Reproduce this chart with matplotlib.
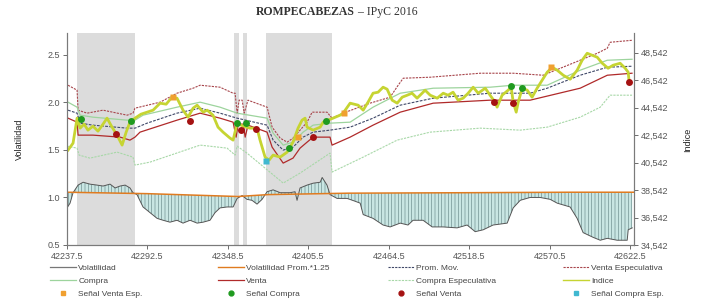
import numpy as np
import matplotlib
matplotlib.use("Agg")
import matplotlib.pyplot as plt
from matplotlib.lines import Line2D

plt.rcParams['font.family'] = ['Liberation Sans', 'DejaVu Sans']
plt.rcParams['hatch.linewidth'] = 0.45
plt.rcParams['hatch.color'] = '#6a8a8a'

# x axis is a trading-day index, labelled with the date serials
tick_pos = [0, 40, 80, 120, 160, 200, 240, 280]
tick_lbl = ['42237.5', '42292.5', '42348.5', '42405.5', '42464.5', '42518.5', '42570.5', '42622.5']

# shaded periods (index units)
spans = [(5, 34), (83, 85.5), (87.5, 89.5), (99, 132)]

# --- Indice (right axis)
ind_x = [0.5, 3, 5, 6.5, 8.5, 10.4, 12.9, 15.4, 17.9, 19.9, 22.4, 24.9, 27.4, 29.4, 31.3, 33.8,
         36.8, 39.8, 42.8, 46.3, 49.3, 52.2, 54.7, 57.7, 60.2, 62.7, 64.7, 67.7, 69.7, 72.6, 75.1,
         77.6, 81.1, 82.6, 84.6, 87.6, 91, 94.5, 96, 98.5, 100.5, 102.5, 106, 109.5, 112.4, 114.9,
         116.9, 118.4, 119.4, 122.4, 125.9, 127.4, 129.8, 132.3, 135.8, 137.3, 140.8, 144.8, 147.3,
         149.7, 152.2, 154.7, 157.2, 159.2, 161.7, 164.2, 166.7, 169.2, 171.6, 174.1, 176.6, 178.1,
         180.6, 184.1, 187.1, 189.5, 192, 194.5, 197, 199.5, 202, 204.5, 208, 210.4, 212.9, 213.9,
         216.4, 219.4, 220.9, 221.9, 223.4, 224.4, 226.4, 228.9, 231.3, 233.8, 236.3, 238.8, 241.3,
         243.8, 246.8, 250.2, 253.7, 256.2, 258.7, 261.2, 263.7, 266.2, 269.1, 271.6, 275.1, 277.6,
         279.1, 279.6]
indice = [41449, 41957, 43775, 43048, 43339, 42903, 43193, 42830, 43339, 43775, 43121, 42539, 41812,
          42757, 43484, 43775, 44066, 44211, 44357, 44866, 44793, 45302, 45229, 44357, 43848, 44502,
          44720, 44211, 44357, 43993, 43121, 42757, 42321, 42176, 43411, 43193, 43048, 43048, 42176,
          40940, 40722, 41085, 40940, 41303, 42030, 43048, 43630, 43775, 43121, 42903, 43121, 43484,
          43630, 43775, 43993, 44139, 44866, 44720, 44357, 44939, 45592, 45665, 46029, 45884, 45084,
          44866, 45302, 45447, 45592, 45229, 45592, 45811, 45447, 45229, 45592, 45447, 45665, 45084,
          45229, 45592, 46029, 45592, 45956, 45447, 44939, 44575, 45447, 45811, 46029, 44939, 44211,
          44939, 45956, 45811, 45302, 45956, 46538, 47119, 47483, 47265, 46901, 46610, 47265, 47992,
          48500, 48355, 48210, 47773, 47410, 47628, 47773, 47410, 47119, 46392]

# --- bands (right axis)
vesp_x = [0.5, 5, 5.5, 10, 17.9, 29.9, 32.8, 33.8, 46.3, 54.7, 62.7, 66.2, 76.1, 82.6, 83.6, 84.6,
          85.6, 87.1, 88.1, 90, 99.5, 102, 106, 109.5, 112.4, 115.9, 119.4, 121.9, 129.3, 131.8,
          137.3, 150.7, 160.7, 164.7, 167.2, 180.6, 205.5, 221.9, 236.8, 255.2, 263.7, 268.7, 270.1,
          281.1]
venta_esp = [46174, 45811, 44357, 44139, 44357, 43993, 44139, 44502, 44939, 45592, 45956, 46174,
             46029, 45592, 45592, 44139, 45084, 45084, 44139, 45084, 44575, 43121, 42321, 42030,
             42321, 42903, 43484, 44211, 44211, 43775, 44139, 44866, 45302, 46174, 46683, 46756,
             47047, 47047, 46901, 47992, 48500, 48864, 49300, 49446]

comp_x = [0.5, 5, 6.5, 12.9, 29.9, 33.8, 37.8, 54.7, 66.2, 76.1, 84.6, 99.5, 102.5, 107.5, 112.4,
          117.4, 122.4, 130.8, 140.8, 152.2, 165.7, 182.1, 210.4, 221.9, 238.8, 255.2, 268.7, 281]
compra = [44938, 44575, 43993, 43848, 43630, 43630, 43993, 44575, 44939, 44575, 44139, 43775, 42684,
          41812, 42030, 42757, 43266, 43411, 43484, 44575, 45592, 45956, 46029, 46174, 46174, 47265,
          47992, 48064]

prom_x = [0.5, 5, 6.5, 12.9, 29.9, 33.8, 39.8, 54.7, 66.2, 76.1, 84.6, 99.5, 102.5, 107.5, 112.4,
          117.4, 122.4, 130.8, 140.8, 152.2, 165.7, 182.1, 210.4, 230.3, 238.8, 255.2, 268.7, 281]
prom_mov = [44357, 44139, 43411, 43266, 43048, 43048, 43411, 44139, 44502, 44139, 43775, 43266, 42176,
            41449, 41667, 42394, 42757, 42903, 43121, 43775, 44720, 45229, 45592, 45592, 45956, 46901,
            47483, 47555]

vent_x = [0.5, 5, 5.5, 12.9, 26.4, 31.3, 33.8, 36.3, 54.7, 66.2, 76.1, 82.6, 84.1, 85.1, 87.6, 88.6,
          90, 99.5, 102, 107.5, 112.4, 115.9, 119.4, 122.4, 130.8, 131.8, 140.8, 152.2, 165.7, 182.1,
          210.4, 230.3, 255.2, 268.7, 281]
venta = [43775, 43484, 42539, 42539, 42394, 42176, 42394, 42757, 43630, 44139, 43775, 43484, 42394,
         43339, 43339, 42394, 43266, 42757, 41667, 40503, 40867, 41594, 42030, 42394, 42394, 41812,
         42394, 43266, 44211, 44866, 45084, 45084, 45956, 46901, 47047]

cesp_x = [0, 5, 6, 11.4, 24.9, 32.8, 33.8, 41.3, 66.2, 79.6, 83.6, 84.6, 89.5, 107.5, 115.9, 130.8,
          131.8, 147.3, 164.2, 180.6, 205.5, 225.4, 238.8, 255.2, 265.2, 270.1, 281]
compra_esp = [41739, 41594, 41085, 40867, 41303, 40940, 40358, 40576, 41812, 41594, 41085, 41739,
              41230, 39049, 39776, 41230, 39849, 40940, 42176, 42757, 43048, 42903, 43121, 43848,
              44575, 45447, 45447]

# --- signals
sc_x = [7, 31.8, 84.6, 89, 110.4, 128.9, 220.9, 226.4]
sc_y = [43702, 43557, 43411, 43411, 41594, 43557, 46101, 45956]
sv_x = [24.4, 61.2, 86.6, 94, 122.4, 212.4, 221.9, 279.6]
sv_y = [42612, 43557, 42903, 42975, 42394, 44939, 44866, 46392]
sve_x = [52.7, 114.9, 137.8, 240.8]
sve_y = [45302, 42394, 44139, 47483]
sce_x = [99]
sce_y = [40649]

# --- volatility (left axis)
vol_x = [0, 1.5, 3, 5.5, 8, 11.4, 14.9, 17.9, 21.4, 23.9, 26.4, 28.9, 31.3, 32.8, 34.8, 37.8, 41.3,
         44.8, 47.8, 51.2, 54.7, 57.7, 61.2, 64.7, 67.7, 71.1, 73.6, 76.1, 79.6, 82.6, 84.6, 87.1,
         89.5, 92, 94.5, 97, 99.5, 102.5, 106, 110.9, 113.4, 114.4, 115.9, 119.4, 122.4, 125.9,
         126.9, 129.3, 130.8, 134.3, 139.3, 143.3, 145.8, 147.3, 152.2, 157.2, 160.7, 165.7, 169.6,
         172.1, 177.1, 181.6, 187.1, 194, 199, 203, 207, 211.9, 218.9, 221.9, 225.4, 230.3, 235.3,
         240.3, 243.8, 250.2, 253.7, 256.7, 261.7, 265.2, 268.7, 273.6, 278.6, 279.1, 281.1]
vol = [0.89, 0.94, 1.05, 1.13, 1.16, 1.14, 1.13, 1.12, 1.14, 1.10, 1.12, 1.13, 1.10, 1.05, 1.03, 0.90,
       0.84, 0.78, 0.76, 0.74, 0.76, 0.73, 0.76, 0.73, 0.74, 0.76, 0.84, 0.89, 0.90, 0.90, 0.99, 1.02,
       0.98, 0.97, 0.93, 0.98, 1.06, 1.08, 1.05, 1.05, 1.06, 0.97, 1.10, 1.13, 1.15, 1.16, 1.21, 1.13,
       1.03, 0.99, 0.99, 0.96, 0.94, 0.82, 0.78, 0.71, 0.69, 0.73, 0.71, 0.76, 0.76, 0.69, 0.69, 0.68,
       0.71, 0.64, 0.66, 0.71, 0.73, 0.89, 0.97, 1.00, 1.00, 0.98, 0.94, 0.90, 0.78, 0.63, 0.58, 0.55,
       0.57, 0.55, 0.55, 0.66, 0.68]

avg_x = [0, 40, 70, 85, 100, 140, 200, 250, 282]
vol_avg = [1.055, 1.04, 1.02, 1.01, 1.03, 1.045, 1.05, 1.055, 1.055]

fig = plt.figure(figsize=(7.1, 3.07), dpi=100)
ax = fig.add_axes([0.0944, 0.202, 0.7986, 0.6905])
ax2 = ax.twinx()

for a, b in spans:
    ax.axvspan(a, b, color='#dcdcdc', lw=0, zorder=0)

base = np.interp(vol_x, avg_x, vol_avg)
ax.fill_between(vol_x, vol, base, facecolor='#c9e6e3', edgecolor='#6a8a8a', hatch='|||||',
                lw=0, zorder=1)
ax.plot(vol_x, vol, color='#555555', lw=0.7, zorder=2)
ax.plot(avg_x, vol_avg, color='#e07b20', lw=1.1, zorder=3)

ax.set_xlim(0, 282)
ax.set_ylim(0.5, 2.73)
ax.set_xticks(tick_pos)
ax.set_xticklabels(tick_lbl)
ax.set_yticks([0.5, 1.0, 1.5, 2.0, 2.5])
ax.set_yticklabels(['0.5', '1.0', '1.5', '2.0', '2.5'])

ax2.plot(cesp_x, compra_esp, color='#a8d8a8', lw=0.8, ls=(0, (2, 1)))
ax2.plot(vesp_x, venta_esp, color='#a8464c', lw=0.8, ls=(0, (2, 1)))
ax2.plot(comp_x, compra, color='#9dd49d', lw=0.9)
ax2.plot(prom_x, prom_mov, color='#3f4868', lw=0.8, ls=(0, (2.5, 1.2)))
ax2.plot(vent_x, venta, color='#b02a2a', lw=0.9)
ax2.plot(ind_x, indice, color='#c6d432', lw=2.0, solid_joinstyle='round')
ax2.plot(sve_x, sve_y, 's', color='#f0a030', ms=4.5, mec='none')
ax2.plot(sc_x, sc_y, 'o', color='#1f9a1f', ms=5, mec='none')
ax2.plot(sv_x, sv_y, 'o', color='#a51212', ms=5, mec='none')
ax2.plot(sce_x, sce_y, 's', color='#40b8d0', ms=4.5, mec='none')
ax2.set_ylim(34542, 49975)
rt = list(range(34542, 48543, 2000))
ax2.set_yticks(rt)
ax2.set_yticklabels(['{:,}'.format(v) for v in rt])

for a in (ax, ax2):
    a.spines['top'].set_visible(False)
    for s in ('left', 'right', 'bottom'):
        a.spines[s].set_color('#7a7a7a')
        a.spines[s].set_linewidth(0.8)
    a.tick_params(labelsize=6.5, colors='#555555', length=3, width=0.6, pad=2)

fig.text(0.028, 0.545, 'Volatilidad', rotation=90, ha='center', va='center', fontsize=6.5, color='#222')
fig.text(0.969, 0.545, 'Indice', rotation=90, ha='center', va='center', fontsize=6.5, color='#222')

fig.text(0.5, 0.96, 'ROMPECABEZAS', ha='right', va='center', fontsize=8.5, weight='bold',
         family=['Liberation Serif', 'DejaVu Serif'], color='#333')
fig.text(0.5, 0.96, ' – IPyC 2016', ha='left', va='center', fontsize=8.5,
         family=['Liberation Serif', 'DejaVu Serif'], color='#333')

cols = [
    ([Line2D([], [], color='#777777', lw=0.9), Line2D([], [], color='#9dd49d', lw=0.9),
      Line2D([], [], ls='none', marker='s', color='#f0a030', ms=3.5)],
     ['Volatilidad', 'Compra', 'Señal Venta Esp.'], 50),
    ([Line2D([], [], color='#e07b20', lw=1.0), Line2D([], [], color='#b02a2a', lw=0.9),
      Line2D([], [], ls='none', marker='o', color='#1f9a1f', ms=3.5)],
     ['Volatilidad Prom.*1.25', 'Venta', 'Señal Compra'], 218),
    ([Line2D([], [], color='#3f4868', lw=0.8, ls=(0, (2, 1))),
      Line2D([], [], color='#a8d8a8', lw=0.8, ls=(0, (2, 1))),
      Line2D([], [], ls='none', marker='o', color='#a51212', ms=3.5)],
     ['Prom. Mov.', 'Compra Especulativa', 'Señal Venta'], 388),
    ([Line2D([], [], color='#a8464c', lw=0.8, ls=(0, (2, 1))), Line2D([], [], color='#c6d432', lw=1.0),
      Line2D([], [], ls='none', marker='s', color='#40b8d0', ms=3.5)],
     ['Venta Especulativa', 'Indice', 'Señal Compra Esp.'], 563),
]
for h, l, px in cols:
    leg = fig.legend(h, l, loc='upper left', bbox_to_anchor=(px / 710, 1 - 264 / 307), frameon=False,
                     fontsize=6, handlelength=3.1, handletextpad=0.3, labelspacing=0.6,
                     borderaxespad=0, borderpad=0)
    for t in leg.get_texts():
        t.set_color('#444444')

fig.savefig('out.png', dpi=100)
